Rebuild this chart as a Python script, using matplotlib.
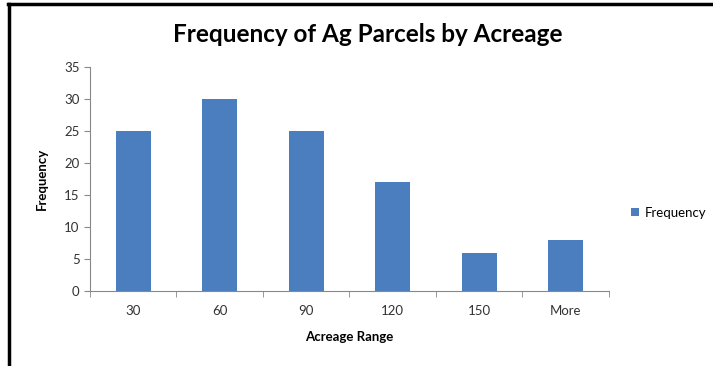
import matplotlib.pyplot as plt
from matplotlib.lines import Line2D

# acreage bins and parcel counts
bins = ['30', '60', '90', '120', '150', 'More']
freq = [25, 30, 25, 17, 6, 8]

plt.rcParams['font.family'] = ['Lato', 'DejaVu Sans']

fig = plt.figure(figsize=(7.13, 3.66), dpi=100)
ax = fig.add_axes([0.1262, 0.2049, 0.7279, 0.612])

x = range(len(bins))
ax.bar(x, freq, width=0.4, color='#4a7ebf', label='Frequency')

ax.set_xlim(-0.5, len(bins) - 0.5)
ax.set_ylim(0, 35)
ax.set_yticks(range(0, 36, 5))
ax.set_xticks(list(x))
ax.set_xticklabels(bins)
ax.set_xticks([i + 0.5 for i in range(-1, len(bins))], minor=True)
ax.tick_params(axis='x', which='major', length=0, pad=10, labelsize=9.5, colors='#333333')
ax.tick_params(axis='x', which='minor', length=4, color='#888888')
ax.tick_params(axis='y', length=4, color='#888888', labelsize=9.5, labelcolor='#333333')

for s in ['top', 'right']:
    ax.spines[s].set_visible(False)
for s in ['left', 'bottom']:
    ax.spines[s].set_color('#888888')
    ax.spines[s].set_linewidth(0.8)

ax.set_xlabel('Acreage Range', fontsize=9.5, fontweight='bold', labelpad=10)
ax.set_ylabel('Frequency', fontsize=9.5, fontweight='bold', labelpad=12)
fig.text(0.516, 0.905, 'Frequency of Ag Parcels by Acreage', ha='center', va='center',
         fontsize=17.5, fontweight='bold')

ax.legend(loc='center left', bbox_to_anchor=(1.02, 0.35), frameon=False,
          fontsize=9.5, handlelength=0.6, handleheight=0.6, handletextpad=0.4)

# frame edges
fig.add_artist(Line2D([0.0133, 0.0133], [0, 0.99], transform=fig.transFigure, color='black', lw=2.5))
fig.add_artist(Line2D([0.0118, 1.0], [0.989, 0.989], transform=fig.transFigure, color='black', lw=2.5))

fig.savefig('out.png', dpi=100)
